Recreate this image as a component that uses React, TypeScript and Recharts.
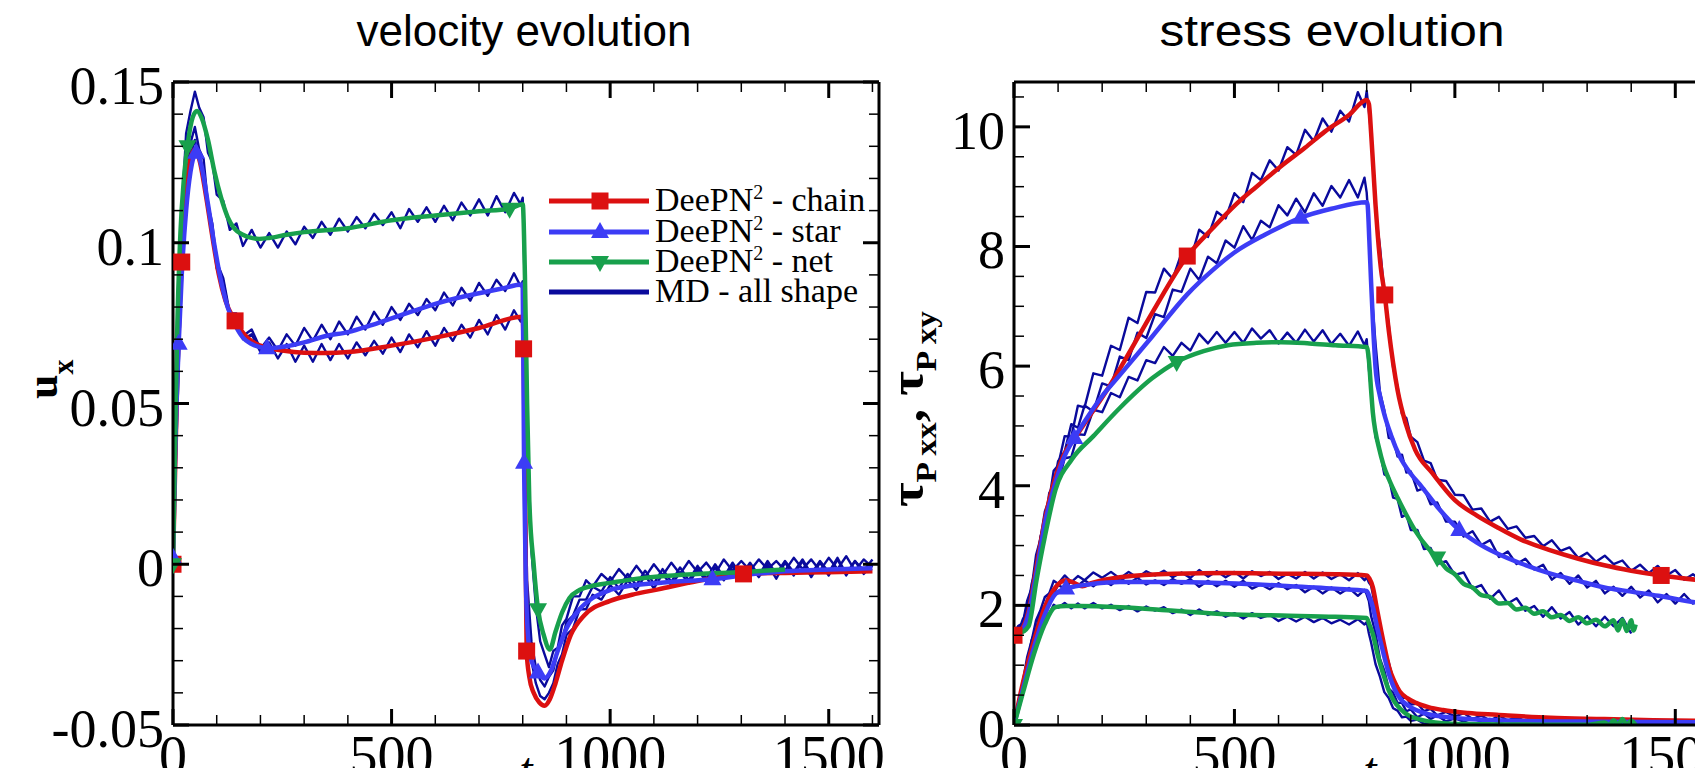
import React from 'react';
import { ComposedChart, Line, XAxis, YAxis, Customized } from 'recharts';

// ---- shared time grid of the noisy MD traces ----
const mdTime = [0, 10, 20, 30, 40, 50, 60, 70, 80, 90, 100, 115, 130, 145, 160, 180, 200, 220, 240, 260, 280, 300, 320, 340, 360, 380, 400, 420, 440, 460, 480, 500, 520, 540, 560, 580, 600, 620, 640, 660, 680, 700, 720, 740, 760, 780, 795, 800, 805, 810, 820, 830, 840, 850, 860, 870, 880, 890, 900, 915, 930, 945, 960, 980, 1000, 1020, 1040, 1060, 1080, 1100, 1120, 1140, 1160, 1180, 1200, 1220, 1240, 1260, 1280, 1300, 1320, 1340, 1360, 1380, 1400, 1420, 1440, 1460, 1480, 1500, 1520, 1540, 1560, 1580, 1600];

// ---- velocity panel: MD ----
const mdNetU = [0, 0.062, 0.109, 0.134, 0.141, 0.147, 0.142, 0.139, 0.128, 0.125, 0.115, 0.113, 0.104, 0.106, 0.099, 0.104, 0.0985, 0.103, 0.0985, 0.1035, 0.0995, 0.105, 0.1015, 0.1065, 0.1025, 0.1075, 0.1035, 0.108, 0.1045, 0.109, 0.1055, 0.1095, 0.1045, 0.1105, 0.1065, 0.111, 0.1065, 0.1115, 0.107, 0.1125, 0.1085, 0.1135, 0.1085, 0.1145, 0.1095, 0.1155, 0.112, 0.114, 0.083, 0.045, 0.004, -0.013, -0.024, -0.028, -0.032, -0.027, -0.026, -0.019, -0.017, -0.01, -0.01, -0.005, -0.007, -0.003, -0.0055, -0.0015, -0.0045, -0.0005, -0.004, 0, -0.0035, 0.0005, -0.003, 0.001, -0.0025, 0.0005, -0.003, 0.0015, -0.002, 0.001, -0.002, 0.0015, -0.0015, 0.001, -0.002, 0.002, -0.0015, 0.0015, -0.002, 0.002, -0.0015, 0.0025, -0.002, 0.0015, -0.001];
const mdStarU = [0.001, 0.048, 0.093, 0.118, 0.131, 0.136, 0.129, 0.126, 0.112, 0.106, 0.094, 0.089, 0.078, 0.078, 0.071, 0.073, 0.067, 0.0705, 0.0665, 0.0715, 0.068, 0.0735, 0.0695, 0.0745, 0.07, 0.0755, 0.0715, 0.077, 0.073, 0.0785, 0.0745, 0.08, 0.076, 0.081, 0.0775, 0.0825, 0.079, 0.0845, 0.0805, 0.086, 0.082, 0.0875, 0.0835, 0.0885, 0.085, 0.0905, 0.0865, 0.088, 0.035, -0.005, -0.024, -0.032, -0.036, -0.038, -0.035, -0.033, -0.027, -0.024, -0.018, -0.016, -0.011, -0.011, -0.007, -0.0085, -0.004, -0.0075, -0.003, -0.0065, -0.002, -0.006, -0.0015, -0.0055, -0.001, -0.005, -0.0005, -0.0045, 0, -0.004, 0.0005, -0.0035, 0.0005, -0.0035, 0.001, -0.003, 0.001, -0.0025, 0.0015, -0.003, 0.001, -0.0025, 0.002, -0.003, 0.001, -0.002, 0.0015];
const mdChainU = [0, 0.055, 0.097, 0.116, 0.127, 0.132, 0.126, 0.122, 0.11, 0.104, 0.092, 0.088, 0.077, 0.077, 0.07, 0.0715, 0.066, 0.069, 0.064, 0.0685, 0.063, 0.068, 0.063, 0.0685, 0.0635, 0.0685, 0.064, 0.069, 0.065, 0.0695, 0.0655, 0.0705, 0.066, 0.0715, 0.0675, 0.0725, 0.068, 0.0735, 0.0695, 0.0745, 0.0705, 0.076, 0.0715, 0.0775, 0.073, 0.079, 0.0755, 0.078, 0.025, -0.012, -0.03, -0.037, -0.041, -0.042, -0.04, -0.037, -0.031, -0.028, -0.022, -0.02, -0.014, -0.014, -0.0095, -0.011, -0.0065, -0.0095, -0.005, -0.008, -0.0035, -0.0075, -0.003, -0.0065, -0.0025, -0.006, -0.0015, -0.0055, -0.001, -0.005, -0.0005, -0.0045, -0.0005, -0.004, 0, -0.0045, 0.0005, -0.0035, 0.001, -0.004, 0.0005, -0.0035, 0.0015, -0.0035, 0.001, -0.003, 0];

// ---- velocity panel: DeePN^2 ----
const chainUT = [0, 10, 20, 30, 40, 50, 60, 75, 90, 105, 120, 142, 170, 200, 250, 300, 350, 400, 500, 600, 700, 800, 802, 805, 809, 815, 825, 838, 850, 862, 875, 890, 910, 940, 1000, 1050, 1110, 1200, 1305, 1400, 1500, 1600];
const chainUV = [0, 0.06, 0.094, 0.115, 0.126, 0.129, 0.126, 0.115, 0.102, 0.09, 0.082, 0.0757, 0.0705, 0.068, 0.0665, 0.0658, 0.0657, 0.066, 0.068, 0.0705, 0.0735, 0.077, 0.067, 0.03, -0.027, -0.035, -0.04, -0.043, -0.044, -0.042, -0.037, -0.03, -0.022, -0.016, -0.0114, -0.0095, -0.0078, -0.0052, -0.003, -0.0027, -0.0025, -0.0022];
const starUT = [0, 5, 13, 20, 30, 40, 53, 65, 80, 95, 110, 125, 142, 160, 180, 200, 215, 260, 300, 350, 400, 450, 500, 550, 600, 650, 700, 750, 800, 803, 807, 812, 820, 835, 850, 865, 880, 900, 930, 960, 1000, 1050, 1110, 1170, 1234, 1300, 1400, 1500, 1600];
const starUV = [0.002, 0.035, 0.0686, 0.09, 0.11, 0.122, 0.128, 0.124, 0.112, 0.099, 0.088, 0.08, 0.0745, 0.0705, 0.0685, 0.0675, 0.0672, 0.0678, 0.069, 0.071, 0.0722, 0.0742, 0.0765, 0.0788, 0.081, 0.0828, 0.0843, 0.0857, 0.087, 0.0316, -0.005, -0.022, -0.03, -0.0337, -0.0355, -0.033, -0.027, -0.02, -0.014, -0.0105, -0.008, -0.0066, -0.0058, -0.0052, -0.0047, -0.0035, -0.0022, -0.0016, -0.0012];
const netUT = [0, 5, 10, 17, 25, 33, 45, 55, 65, 80, 95, 110, 125, 140, 160, 180, 197, 220, 260, 300, 400, 500, 600, 700, 770, 800, 805, 810, 815, 825, 835, 848, 862, 875, 890, 907, 930, 960, 1000, 1050, 1110, 1200, 1305, 1400];
const netUV = [0, 0.04, 0.075, 0.103, 0.12, 0.13, 0.139, 0.141, 0.139, 0.132, 0.122, 0.114, 0.108, 0.1045, 0.1025, 0.1015, 0.1012, 0.1015, 0.1025, 0.1033, 0.1045, 0.107, 0.1085, 0.1098, 0.1106, 0.112, 0.09, 0.05, 0.02, 0, -0.014, -0.022, -0.0265, -0.021, -0.015, -0.0105, -0.008, -0.0067, -0.0058, -0.0047, -0.0038, -0.003, -0.0024, -0.0016];
const chainUMarks = [0, 20, 142, 802, 809, 1305];
const starUMarks = [0, 13, 53, 215, 803, 835, 1234];
const netUMarks = [0, 33, 770, 835];

// ---- stress panel: MD ----
const mdChainXX = [1.55, 1.66, 1.7, 2.08, 2.29, 2.84, 3.11, 3.57, 3.77, 4.25, 4.34, 4.83, 4.82, 5.34, 5.31, 5.88, 5.84, 6.34, 6.27, 6.81, 6.72, 7.24, 7.23, 7.63, 7.46, 7.89, 7.77, 8.28, 8.16, 8.58, 8.47, 8.89, 8.74, 9.23, 9.11, 9.44, 9.27, 9.66, 9.53, 9.95, 9.76, 10.14, 9.92, 10.27, 10.09, 10.58, 10.33, 10.6, 10.25, 9.88, 8.6, 8.0, 7.22, 6.7, 5.97, 5.66, 5.2, 5.13, 4.82, 4.73, 4.42, 4.38, 4.1, 4.08, 3.85, 3.84, 3.6, 3.62, 3.4, 3.48, 3.28, 3.32, 3.13, 3.16, 2.99, 3.09, 2.91, 2.97, 2.79, 2.88, 2.73, 2.83, 2.69, 2.75, 2.58, 2.68, 2.54, 2.66, 2.5, 2.59, 2.43, 2.52, 2.41, 2.53, 2.4];
const mdStarXX = [1.55, 1.55, 1.77, 1.88, 2.36, 2.62, 3.15, 3.38, 3.88, 4.0, 4.41, 4.57, 5.03, 4.97, 5.34, 5.24, 5.71, 5.66, 6.16, 6.1, 6.56, 6.47, 6.87, 6.82, 7.28, 7.24, 7.63, 7.44, 7.83, 7.72, 8.1, 7.98, 8.34, 8.11, 8.43, 8.32, 8.69, 8.52, 8.8, 8.57, 8.89, 8.68, 9.01, 8.82, 9.11, 8.82, 9.15, 8.9, 8.35, 7.34, 6.38, 5.57, 5.26, 4.8, 4.78, 4.49, 4.52, 4.22, 4.24, 3.92, 3.96, 3.69, 3.72, 3.4, 3.4, 3.15, 3.24, 3.01, 3.09, 2.81, 2.9, 2.69, 2.78, 2.6, 2.68, 2.43, 2.54, 2.36, 2.5, 2.3, 2.41, 2.2, 2.31, 2.16, 2.31, 2.13, 2.25, 2.05, 2.19, 2.03, 2.19, 2.03, 2.13, 1.94, 2.06];
const mdNetXX = [1.55, 1.64, 1.68, 2.01, 2.25, 2.72, 2.97, 3.41, 3.59, 3.98, 4.05, 4.46, 4.48, 4.86, 4.85, 5.27, 5.23, 5.55, 5.48, 5.82, 5.76, 6.1, 6.05, 6.32, 6.17, 6.39, 6.26, 6.54, 6.38, 6.57, 6.39, 6.57, 6.39, 6.63, 6.46, 6.6, 6.38, 6.56, 6.39, 6.61, 6.41, 6.6, 6.37, 6.54, 6.34, 6.58, 6.35, 6.45, 5.95, 5.56, 4.82, 4.58, 4.19, 4.15, 3.8, 3.78, 3.48, 3.52, 3.26, 3.26, 2.94, 2.96, 2.69, 2.74, 2.51, 2.55, 2.28, 2.34, 2.11, 2.25, 2.03, 2.12, 1.91, 1.99, 1.81, 1.97, 1.78, 1.89, 1.68, 1.82, 1.65, 1.81, 1.65, 1.79, 1.53];
const mdChainXY = [0, 0.38, 0.72, 1.14, 1.41, 1.75, 1.92, 2.14, 2.2, 2.41, 2.36, 2.5, 2.39, 2.49, 2.42, 2.55, 2.46, 2.56, 2.45, 2.56, 2.46, 2.57, 2.5, 2.58, 2.47, 2.55, 2.46, 2.59, 2.48, 2.57, 2.47, 2.56, 2.45, 2.57, 2.49, 2.56, 2.44, 2.53, 2.45, 2.56, 2.45, 2.55, 2.44, 2.52, 2.42, 2.54, 2.42, 2.47, 2.38, 2.33, 1.96, 1.69, 1.27, 1.05, 0.76, 0.65, 0.45, 0.46, 0.34, 0.36, 0.23, 0.27, 0.16, 0.22, 0.14, 0.2, 0.1, 0.16, 0.07, 0.16, 0.075, 0.14, 0.055, 0.11, 0.05, 0.11, 0.055, 0.105, 0.04, 0.09, 0.048, 0.096, 0.054, 0.082, 0.03, 0.08, 0.038, 0.086, 0.035, 0.074, 0.023, 0.062, 0.031, 0.08, 0.04];
const mdStarXY = [0, 0.3, 0.73, 1.01, 1.42, 1.6, 1.91, 1.99, 2.2, 2.19, 2.34, 2.28, 2.41, 2.33, 2.42, 2.32, 2.43, 2.34, 2.46, 2.36, 2.46, 2.35, 2.42, 2.34, 2.44, 2.36, 2.44, 2.31, 2.41, 2.32, 2.41, 2.31, 2.41, 2.28, 2.35, 2.27, 2.37, 2.27, 2.34, 2.22, 2.31, 2.2, 2.3, 2.2, 2.29, 2.16, 2.26, 2.18, 2.07, 1.82, 1.54, 1.11, 0.91, 0.61, 0.54, 0.37, 0.37, 0.23, 0.26, 0.13, 0.19, 0.1, 0.16, 0.06, 0.11, 0.055, 0.11, 0.055, 0.1, 0.038, 0.086, 0.044, 0.082, 0.05, 0.088, 0.026, 0.074, 0.032, 0.08, 0.029, 0.068, 0.017, 0.056, 0.025, 0.074, 0.023, 0.062, 0.011, 0.06, 0.02, 0.07, 0.03, 0.06, 0.01, 0.05];
const mdNetXY = [0, 0.32, 0.62, 1.01, 1.24, 1.54, 1.66, 1.83, 1.86, 2.01, 1.96, 2.04, 1.95, 2.03, 1.95, 2.04, 1.95, 2.01, 1.92, 1.99, 1.9, 1.98, 1.91, 1.97, 1.87, 1.93, 1.84, 1.93, 1.84, 1.9, 1.81, 1.87, 1.78, 1.87, 1.79, 1.84, 1.74, 1.81, 1.73, 1.81, 1.72, 1.79, 1.7, 1.76, 1.68, 1.77, 1.68, 1.72, 1.53, 1.38, 1.02, 0.81, 0.55, 0.45, 0.28, 0.24, 0.13, 0.14, 0.07, 0.09, 0.02, 0.05, 0.01, 0.04, 0.015, 0.04, 0.005, 0.035, 0.01, 0.03, 0, 0.03, 0.005, 0.025, 0, 0.03, 0.01, 0.035, 0, 0.04, 0.005, 0.05, 0.01, 0.06, 0.01];

// ---- stress panel: DeePN^2 ----
const chainXXT = [0, 15, 33, 51, 70, 88, 112, 143, 167, 204, 250, 314, 393, 450, 500, 550, 607, 660, 705, 760, 800, 805, 810, 815, 820, 825, 832, 841, 850, 860, 870, 888, 910, 949, 1000, 1050, 1095, 1150, 1217, 1280, 1339, 1400, 1468, 1545, 1600];
const chainXXV = [1.5, 1.57, 1.9, 2.64, 3.43, 3.99, 4.5, 4.85, 5.12, 5.52, 6.08, 6.9, 7.84, 8.3, 8.68, 9.0, 9.35, 9.65, 9.92, 10.2, 10.45, 10.38, 9.9, 9.3, 8.7, 8.2, 7.65, 7.19, 6.6, 6.05, 5.6, 5.05, 4.6, 4.21, 3.76, 3.5, 3.31, 3.1, 2.92, 2.78, 2.67, 2.58, 2.5, 2.43, 2.39];
const starXXT = [0, 15, 33, 51, 70, 90, 112, 137, 167, 200, 240, 314, 393, 450, 500, 570, 650, 720, 800, 802, 806, 810, 815, 820, 830, 839, 855, 875, 900, 924, 960, 1010, 1050, 1095, 1150, 1217, 1280, 1339, 1400, 1462, 1545, 1600];
const starXXV = [1.5, 1.55, 1.85, 2.55, 3.37, 3.95, 4.45, 4.8, 5.15, 5.5, 5.85, 6.5, 7.2, 7.6, 7.9, 8.2, 8.48, 8.63, 8.74, 8.7, 8.1, 7.4, 6.6, 5.98, 5.5, 5.22, 4.85, 4.49, 4.2, 3.99, 3.65, 3.26, 3.05, 2.87, 2.7, 2.53, 2.41, 2.3, 2.23, 2.16, 2.05, 2.0];
const netXXT = [0, 15, 33, 51, 70, 94, 131, 180, 240, 314, 369, 430, 485, 550, 607, 670, 729, 800, 805, 810, 814, 820, 827, 838, 851, 870, 888, 910, 940, 960, 980, 1000, 1020, 1040, 1060, 1080, 1100, 1120, 1140, 1160, 1180, 1200, 1220, 1240, 1260, 1280, 1300, 1320, 1340, 1360, 1370, 1380, 1390, 1400, 1405, 1410];
const netXXV = [1.55, 1.55, 1.65, 2.42, 3.15, 3.93, 4.44, 4.83, 5.3, 5.8, 6.07, 6.25, 6.35, 6.39, 6.4, 6.38, 6.35, 6.32, 6.1, 5.6, 5.22, 4.9, 4.66, 4.35, 4.1, 3.8, 3.54, 3.25, 2.95, 2.8, 2.62, 2.52, 2.36, 2.3, 2.17, 2.14, 2.03, 2.04, 1.93, 1.96, 1.86, 1.9, 1.8, 1.84, 1.74, 1.8, 1.7, 1.76, 1.65, 1.75, 1.58, 1.76, 1.57, 1.75, 1.58, 1.68];
const chainXYT = [0, 21, 45, 70, 94, 118, 135, 155, 175, 240, 363, 485, 607, 729, 800, 806, 814, 823, 833, 842, 851, 862, 875, 892, 912, 940, 973, 1030, 1095, 1217, 1339, 1450, 1545, 1600];
const chainXYV = [0, 0.73, 1.4, 1.97, 2.3, 2.42, 2.38, 2.32, 2.37, 2.47, 2.53, 2.54, 2.53, 2.52, 2.5, 2.45, 2.3, 1.95, 1.57, 1.25, 0.96, 0.74, 0.56, 0.45, 0.37, 0.3, 0.25, 0.2, 0.17, 0.12, 0.1, 0.08, 0.07, 0.065];
const starXYT = [0, 21, 45, 70, 94, 118, 180, 240, 363, 485, 607, 729, 800, 806, 814, 824, 833, 842, 851, 862, 875, 895, 912, 940, 973, 1030, 1095, 1217, 1339, 1450, 1545, 1600];
const starXYV = [0, 0.62, 1.29, 1.85, 2.19, 2.28, 2.36, 2.39, 2.39, 2.37, 2.33, 2.28, 2.24, 2.15, 1.97, 1.62, 1.35, 1.08, 0.84, 0.62, 0.45, 0.32, 0.25, 0.18, 0.14, 0.1, 0.08, 0.06, 0.055, 0.05, 0.045, 0.04];
const netXYT = [0, 21, 45, 70, 94, 118, 150, 240, 363, 485, 607, 729, 800, 806, 814, 824, 833, 842, 851, 862, 875, 895, 912, 940, 973, 1030, 1095, 1200, 1300, 1340, 1350, 1360, 1370, 1380, 1390, 1400, 1410];
const netXYV = [0, 0.56, 1.18, 1.69, 1.97, 1.99, 1.99, 1.97, 1.91, 1.85, 1.83, 1.81, 1.79, 1.68, 1.52, 1.2, 0.96, 0.75, 0.56, 0.4, 0.28, 0.16, 0.11, 0.06, 0.03, 0.015, 0.01, 0.005, 0.005, 0.04, 0, 0.08, 0, 0.1, 0, 0.07, 0];
const chainXXMarks = [0, 393, 841, 1468];
const starXXMarks = [137, 650, 1010];
const netXXMarks = [369, 960];
const starXYMarks = [0, 118];
const netXYMarks = [0];

// ---- axes & legend text ----
const timeTicks = [0, 100, 200, 300, 400, 500, 600, 700, 800, 900, 1000, 1100, 1200, 1300, 1400, 1500, 1600];
const velTicks = [-0.05, -0.04, -0.03, -0.02, -0.01, 0, 0.01, 0.02, 0.03, 0.04, 0.05, 0.06, 0.07, 0.08, 0.09, 0.1, 0.11, 0.12, 0.13, 0.14, 0.15];
const stressTicks = [0, 0.5, 1, 1.5, 2, 2.5, 3, 3.5, 4, 4.5, 5, 5.5, 6, 6.5, 7, 7.5, 8, 8.5, 9, 9.5, 10, 10.5];
const legendNames = ['chain', 'star', 'net'];
const mdLegendName = 'MD - all shape';

const SERIF = "'Liberation Serif', 'Times New Roman', Times, serif";
const SANS = "'Liberation Sans', Arial, Helvetica, sans-serif";
const RED = '#dc1010';
const BLUE = '#3c3cf5';
const GREEN = '#18a04c';
const NAVY = '#0a0a9c';

type Pt = { t: number; v: number };
const pts = (ts: number[], vs: number[]): Pt[] =>
  ts.slice(0, Math.min(ts.length, vs.length)).map((t, i) => ({ t, v: vs[i] }));

const timeMajor = (v: number) => v % 500 === 0;
const velMajor = (v: number) => Math.abs(Math.round(v * 100)) % 5 === 0;
const stressMajor = (v: number) => Math.round(v * 2) % 4 === 0;

type Side = 'bottom' | 'top' | 'left' | 'right';
const makeTick = (side: Side, isMajor: (v: number) => boolean, withLabel: boolean) => (props: any) => {
  const { x, y, payload, index } = props;
  const v = payload.value as number;
  const major = isMajor(v);
  const len = major ? 16 : 10;
  const sw = major ? 3 : 1.5;
  let x2 = x;
  let y2 = y;
  if (side === 'bottom') y2 = y - len;
  if (side === 'top') y2 = y + len;
  if (side === 'left') x2 = x + len;
  if (side === 'right') x2 = x - len;
  return (
    <g key={`${side}-${index}`}>
      <line x1={x} y1={y} x2={x2} y2={y2} stroke="#000" strokeWidth={sw} />
      {withLabel && major && side === 'bottom' && (
        <text x={x} y={y + 50} textAnchor="middle" fontFamily={SERIF} fontSize={56} fill="#000">{String(v)}</text>
      )}
      {withLabel && major && side === 'left' && (
        <text x={x - 9} y={y + 22} textAnchor="end" fontFamily={SERIF} fontSize={54} fill="#000">{String(v)}</text>
      )}
    </g>
  );
};

type Shape = 'square' | 'up' | 'down';
const markerDot = (shape: Shape, color: string, marks: number[]) => (props: any) => {
  const { cx, cy, payload, index } = props;
  if (!payload || !marks.includes(payload.t) || cx == null || cy == null) return <g key={`m-${index}`} />;
  if (shape === 'square') {
    return <rect key={`m-${index}`} x={cx - 8.5} y={cy - 8.5} width={17} height={17} fill={color} />;
  }
  const p = shape === 'up'
    ? `${cx},${cy - 10} ${cx - 9},${cy + 6} ${cx + 9},${cy + 6}`
    : `${cx},${cy + 10} ${cx - 9},${cy - 6} ${cx + 9},${cy - 6}`;
  return <polygon key={`m-${index}`} points={p} fill={color} />;
};

const axisLine = { stroke: '#000', strokeWidth: 3 };

function LeftDecor() {
  const rowY = [201, 232, 262, 292];
  const shapes: Shape[] = ['square', 'up', 'down'];
  const colors = [RED, BLUE, GREEN];
  return (
    <g>
      <text x={524} y={46} textAnchor="middle" fontFamily={SANS} fontSize={44} textLength={335} lengthAdjust="spacingAndGlyphs" fill="#000">
        velocity evolution
      </text>
      <text transform="translate(57,399) rotate(-90)" fontFamily={SERIF} fontWeight="bold" fontSize={44} fill="#000">
        u<tspan dy={16} fontSize={30}>x</tspan>
      </text>
      {legendNames.map((name, i) => {
        const y = rowY[i];
        const m = markerDot(shapes[i], colors[i], [0]);
        return (
          <g key={name}>
            <line x1={549} y1={y} x2={649} y2={y} stroke={colors[i]} strokeWidth={5} />
            {m({ cx: 600, cy: y, payload: { t: 0 }, index: i })}
            <text x={655} y={y + 10} fontFamily={SERIF} fontSize={34} fill="#000">
              DeePN<tspan dy={-12} fontSize={20}>2</tspan><tspan dy={12}>{` - ${name}`}</tspan>
            </text>
          </g>
        );
      })}
      <line x1={549} y1={rowY[3]} x2={649} y2={rowY[3]} stroke={NAVY} strokeWidth={5} />
      <text x={655} y={rowY[3] + 10} fontFamily={SERIF} fontSize={34} fill="#000">{mdLegendName}</text>
    </g>
  );
}

function RightDecor() {
  return (
    <g>
      <text x={432} y={46} textAnchor="middle" fontFamily={SANS} fontSize={44} textLength={345} lengthAdjust="spacingAndGlyphs" fill="#000">
        stress evolution
      </text>
      <text transform="translate(23,507) rotate(-90)" fontFamily={SERIF} fontWeight="bold" fontSize={48} fill="#000" textLength={196} lengthAdjust="spacingAndGlyphs">
        τ<tspan dy={13} fontSize={30}>P xx</tspan><tspan dy={-13}>, τ</tspan><tspan dy={13} fontSize={30}>P xy</tspan>
      </text>
    </g>
  );
}

const TIME_DOMAIN: [number, number] = [0, 1615];

function mdLine(key: string, data: Pt[]) {
  return (
    <Line key={key} xAxisId="b" yAxisId="l" data={data} dataKey="v" type="linear" stroke={NAVY} strokeWidth={2.4}
      dot={false} activeDot={false} isAnimationActive={false} strokeLinejoin="round" />
  );
}

function modelLine(key: string, data: Pt[], color: string, shape: Shape, marks: number[]) {
  return (
    <Line key={key} xAxisId="b" yAxisId="l" data={data} dataKey="v" type="monotone" stroke={color} strokeWidth={4.5}
      dot={markerDot(shape, color, marks)} activeDot={false} isAnimationActive={false} />
  );
}

function axes(yDomain: [number, number], yTicks: number[], yMajor: (v: number) => boolean, guide: Pt[]) {
  return [
    <XAxis key="xb" xAxisId="b" type="number" dataKey="t" domain={TIME_DOMAIN} ticks={timeTicks} interval={0}
      allowDataOverflow height={75} tickSize={0} tickMargin={0} tickLine={false} axisLine={axisLine}
      tick={makeTick('bottom', timeMajor, true)}
      label={{ value: 't', position: 'insideBottom', offset: 14, fontSize: 48, fontFamily: SERIF, fontStyle: 'italic', fill: '#000' }} />,
    <XAxis key="xt" xAxisId="top" orientation="top" type="number" dataKey="t" domain={TIME_DOMAIN} ticks={timeTicks}
      interval={0} allowDataOverflow height={20} tickSize={0} tickMargin={0} tickLine={false} axisLine={axisLine}
      tick={makeTick('top', timeMajor, false)} />,
    <YAxis key="yl" yAxisId="l" type="number" domain={yDomain} ticks={yTicks} interval={0} allowDataOverflow width={100}
      tickSize={0} tickMargin={0} tickLine={false} axisLine={axisLine} tick={makeTick('left', yMajor, true)} />,
    <YAxis key="yr" yAxisId="r" orientation="right" type="number" domain={yDomain} ticks={yTicks} interval={0}
      allowDataOverflow width={20} tickSize={0} tickMargin={0} tickLine={false} axisLine={axisLine}
      tick={makeTick('right', yMajor, false)} />,
    <Line key="guide" xAxisId="top" yAxisId="r" data={guide} dataKey="v" stroke="none" dot={false} activeDot={false}
      isAnimationActive={false} legendType="none" />,
  ];
}

export default function App() {
  const chainU = pts(chainUT, chainUV);
  const chainXX = pts(chainXXT, chainXXV);
  return (
    <div style={{ position: 'fixed', left: 0, top: 0, width: 1695, height: 768, overflow: 'hidden', background: '#fff' }}>
      <div style={{ position: 'absolute', left: 0, top: 0 }}>
        <ComposedChart width={900} height={810} margin={{ top: 62, right: 1, bottom: 10, left: 73 }}>
          {axes([-0.05, 0.15], velTicks, velMajor, chainU)}
          {mdLine('mdc', pts(mdTime, mdChainU))}
          {mdLine('mds', pts(mdTime, mdStarU))}
          {mdLine('mdn', pts(mdTime, mdNetU))}
          {modelLine('c', chainU, RED, 'square', chainUMarks)}
          {modelLine('s', pts(starUT, starUV), BLUE, 'up', starUMarks)}
          {modelLine('n', pts(netUT, netUV), GREEN, 'down', netUMarks)}
          <Customized component={<LeftDecor />} />
        </ComposedChart>
      </div>
      <div style={{ position: 'absolute', left: 900, top: 0 }}>
        <ComposedChart width={900} height={810} margin={{ top: 62, right: 54, bottom: 10, left: 14 }}>
          {axes([0, 10.75], stressTicks, stressMajor, chainXX)}
          {mdLine('mdcxx', pts(mdTime, mdChainXX))}
          {mdLine('mdsxx', pts(mdTime, mdStarXX))}
          {mdLine('mdnxx', pts(mdTime, mdNetXX))}
          {mdLine('mdcxy', pts(mdTime, mdChainXY))}
          {mdLine('mdsxy', pts(mdTime, mdStarXY))}
          {mdLine('mdnxy', pts(mdTime, mdNetXY))}
          {modelLine('cxx', chainXX, RED, 'square', chainXXMarks)}
          {modelLine('sxx', pts(starXXT, starXXV), BLUE, 'up', starXXMarks)}
          {modelLine('nxx', pts(netXXT, netXXV), GREEN, 'down', netXXMarks)}
          {modelLine('cxy', pts(chainXYT, chainXYV), RED, 'square', [])}
          {modelLine('sxy', pts(starXYT, starXYV), BLUE, 'up', starXYMarks)}
          {modelLine('nxy', pts(netXYT, netXYV), GREEN, 'down', netXYMarks)}
          <Customized component={<RightDecor />} />
        </ComposedChart>
      </div>
    </div>
  );
}
